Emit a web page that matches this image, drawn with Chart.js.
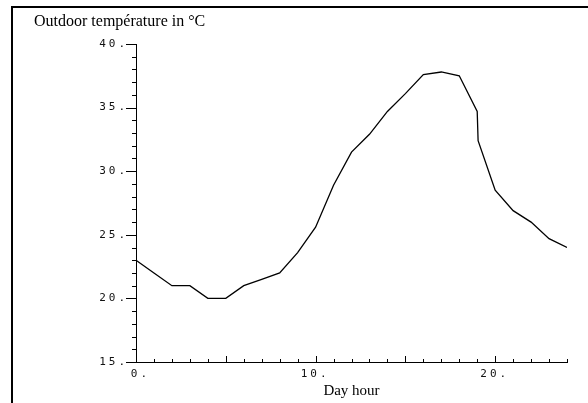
<!DOCTYPE html>
<html>
<head>
<meta charset="utf-8">
<script src="https://cdn.jsdelivr.net/npm/chart.js@4.4.1/dist/chart.umd.min.js"></script>
<style>
  html, body { margin: 0; padding: 0; background: #fff; }
  #wrap { position: relative; width: 588px; height: 403px; overflow: hidden; }
  #frame { position: absolute; left: 11px; top: 6px; width: 600px; height: 420px;
           border-left: 2px solid #000; border-top: 2px solid #000; box-sizing: border-box; }
  #ylabel { position: absolute; left: 34px; top: 11px; font: 16px/20px "Liberation Serif", serif; color: #000; white-space: nowrap; }
  canvas { position: absolute; left: 0; top: 0; }
</style>
</head>
<body>
<div id="wrap">
  <canvas id="c" width="588" height="403"></canvas>
  <div id="frame"></div>
  <div id="ylabel">Outdoor température in °C</div>
</div>
<script>
// Hourly outdoor temperature over one day
const hours = [0, 1, 2, 3, 4, 5, 6, 7, 8, 9, 10, 11, 12, 13, 14, 15, 16, 17, 18, 19, 19.05, 20, 21, 22, 23, 24];
const temps = [23, 22, 21, 21, 20, 20, 21, 21.5, 22, 23.6, 25.6, 28.9, 31.5, 32.9, 34.7, 36.1, 37.6, 37.8, 37.5, 34.7, 32.4, 28.5, 26.9, 26.0, 24.7, 24.0];
const xLabelEvery = 10;
const yLabelEvery = 5;
const xTitle = 'Day hour';

// Short tick marks, longer at every fifth unit
const tickMarks = {
  id: 'tickMarks',
  afterDatasetsDraw(chart) {
    const ctx = chart.ctx;
    const xs = chart.scales.x, ys = chart.scales.y;
    ctx.save();
    ctx.strokeStyle = '#000';
    ctx.lineWidth = 1;
    ctx.beginPath();
    xs.ticks.forEach(t => {
      const px = Math.round(xs.getPixelForValue(t.value)) + 0.5;
      const len = t.value % 5 === 0 ? 6 : 3;
      ctx.moveTo(px, xs.top);
      ctx.lineTo(px, xs.top - len);
    });
    ys.ticks.forEach(t => {
      const py = Math.round(ys.getPixelForValue(t.value)) + 0.5;
      const len = t.value % 5 === 0 ? 10 : 4;
      ctx.moveTo(ys.right, py);
      ctx.lineTo(ys.right - len, py);
    });
    ctx.stroke();
    ctx.restore();
    // wide spacing for the numeric tick labels drawn next
    ctx.letterSpacing = '3px';
  },
  afterDraw(chart) {
    chart.ctx.letterSpacing = '0px';
  }
};

const tickFont = { family: '"DejaVu Sans Mono", monospace', size: 11 };

new Chart(document.getElementById('c'), {
  type: 'line',
  data: {
    datasets: [{
      data: hours.map((h, i) => ({ x: h, y: temps[i] })),
      borderColor: '#000',
      borderWidth: 1.3,
      pointRadius: 0,
      tension: 0,
      fill: false
    }]
  },
  options: {
    responsive: false,
    devicePixelRatio: 1,
    animation: false,
    events: [],
    layout: { padding: { left: 0, right: 21, top: 44, bottom: 0 } },
    plugins: { legend: { display: false }, tooltip: { enabled: false }, title: { display: false } },
    scales: {
      x: {
        type: 'linear',
        min: 0, max: 24,
        grid: { display: true, drawOnChartArea: false, drawTicks: false },
        border: { display: true, color: '#000', width: 1 },
        ticks: {
          stepSize: 1, autoSkip: false, maxRotation: 0, z: 1,
          padding: 6, align: 'end', labelOffset: 14,
          color: '#111', font: tickFont,
          callback: v => (v % xLabelEvery === 0 ? v + '.' : '')
        },
        title: {
          display: true, text: xTitle, color: '#000',
          font: { family: '"Liberation Serif", serif', size: 15 },
          padding: { top: 0, bottom: 3 }
        },
        afterFit(s) { s.height = 41; }
      },
      y: {
        min: 15, max: 40,
        grid: { display: true, drawOnChartArea: false, drawTicks: false },
        border: { display: true, color: '#000', width: 1 },
        ticks: {
          stepSize: 1, autoSkip: false, z: 1, padding: 8,
          color: '#111', font: tickFont,
          callback: v => (v % yLabelEvery === 0 ? v + '.' : '')
        },
        afterFit(s) { s.width = 136; }
      }
    }
  },
  plugins: [tickMarks]
});
</script>
</body>
</html>
